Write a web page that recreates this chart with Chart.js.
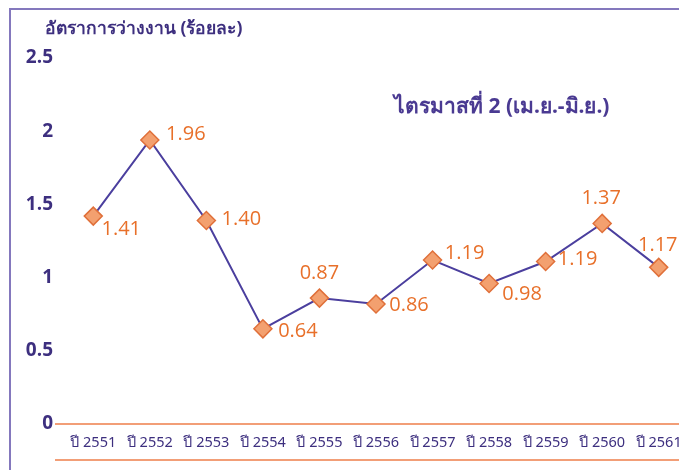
<!DOCTYPE html>
<html>
<head>
<meta charset="utf-8">
<script src="https://cdn.jsdelivr.net/npm/chart.js@4"></script>
<style>
    body { margin: 0; background: #ffffff; overflow: hidden; width: 679px; height: 470px; position: relative; }
    #frame { position: absolute; left: 9px; top: 8px; width: 760px; height: 520px; border: 2px solid #8478bd; }
    #wrap { position: absolute; left: 0; top: 0; width: 700px; height: 470px; }
    .title { position: absolute; color: #3d2f7f; font-family: Tahoma, "Noto Sans", sans-serif; font-weight: bold; white-space: nowrap; }
    #yTitle { left: 45px; top: 14px; font-size: 17.5px; }
    #note { left: 394px; top: 89px; font-size: 21px; color: #4a3a92; }
</style>
</head>
<body>
<div id="frame"></div>
<div id="wrap"><canvas id="chart" width="700" height="470"></canvas></div>
<div class="title" id="yTitle">อัตราการว่างงาน (ร้อยละ)</div>
<div class="title" id="note">ไตรมาสที่ 2 (เม.ย.-มิ.ย.)</div>
<script>
// categories (years)
const years = ["ปี 2551", "ปี 2552", "ปี 2553", "ปี 2554", "ปี 2555", "ปี 2556",
    "ปี 2557", "ปี 2558", "ปี 2559", "ปี 2560", "ปี 2561"];

// plotted positions
const rates = [1.42, 1.94, 1.39, 0.65, 0.86, 0.82, 1.12, 0.96, 1.11, 1.37, 1.07];

// printed value labels
const rateLabels = ["1.41", "1.96", "1.40", "0.64", "0.87", "0.86", "1.19", "0.98", "1.19", "1.37", "1.17"];

// y axis ticks
const yTicks = [0, 0.5, 1, 1.5, 2, 2.5];

const purple = "#3d2f7f";
const orange = "#e8702a";

// value labels next to the diamonds, plus the orange rules at bottom
const labelPlugin = {
    id: "valueLabels",
    afterDatasetsDraw(chart, args, opts) {
        const ctx = chart.ctx;
        const meta = chart.getDatasetMeta(0);
        ctx.save();
        ctx.font = "20px 'Open Sans', sans-serif";
        ctx.fillStyle = orange;
        ctx.textAlign = "center";
        ctx.textBaseline = "middle";
        meta.data.forEach((pt, i) => {
            const off = opts.offsets[i];
            ctx.fillText(rateLabels[i], pt.x + off[0], pt.y + off[1]);
        });
        ctx.restore();
    },
    beforeDatasetsDraw(chart) {
        const ctx = chart.ctx;
        const area = chart.chartArea;
        const y0 = chart.scales.y.getPixelForValue(0);
        ctx.save();
        ctx.strokeStyle = "#ee7f4b";
        ctx.lineWidth = 1.5;
        ctx.beginPath();
        ctx.moveTo(area.left - 10, y0);
        ctx.lineTo(chart.width, y0);
        ctx.moveTo(area.left - 10, y0 + 36);
        ctx.lineTo(chart.width, y0 + 36);
        ctx.stroke();
        ctx.restore();
    }
};

new Chart(document.getElementById("chart"), {
    type: "line",
    data: {
        labels: years,
        datasets: [{
            data: rates,
            borderColor: "#4b3f9e",
            borderWidth: 2,
            tension: 0,
            pointStyle: "rectRot",
            pointRadius: 9,
            pointBorderWidth: 1.5,
            pointBackgroundColor: "#f3a06f",
            pointBorderColor: "#e0703a",
            fill: false
        }]
    },
    options: {
        responsive: false,
        animation: false,
        layout: { padding: { top: 58, right: 13, bottom: 0, left: 0 } },
        plugins: {
            legend: { display: false },
            tooltip: { enabled: false },
            valueLabels: {
                offsets: [[28, 13], [36, -6], [35, -1], [35, 2], [0, -25], [33, 1],
                    [32, -7], [33, 11], [32, -2], [-1, -25], [-1, -22]]
            }
        },
        scales: {
            x: {
                offset: true,
                grid: { display: false, drawTicks: false },
                border: { display: false },
                ticks: {
                    color: purple,
                    font: { family: "Tahoma, 'Noto Sans', sans-serif", size: 14.5 },
                    padding: 10,
                    maxRotation: 0,
                    autoSkip: false
                },
                afterFit(scale) { scale.height = 46; }
            },
            y: {
                min: 0,
                max: 2.5,
                afterBuildTicks(scale) { scale.ticks = yTicks.map(v => ({ value: v })); },
                grid: { display: false, drawTicks: false },
                border: { display: false },
                ticks: {
                    color: purple,
                    font: { family: "'Open Sans', sans-serif", size: 19, weight: "bold" },
                    padding: 12,
                    callback: (v) => String(v)
                },
                afterFit(scale) { scale.width = 65; }
            }
        }
    },
    plugins: [labelPlugin]
});
</script>
</body>
</html>
